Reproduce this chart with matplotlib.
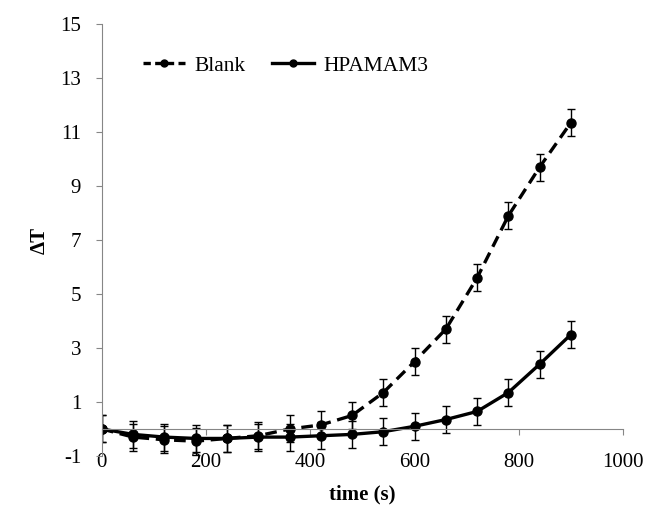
import matplotlib
matplotlib.use("Agg")
import matplotlib.pyplot as plt
from matplotlib.lines import Line2D

plt.rcParams['font.family'] = ['Liberation Serif', 'DejaVu Serif']
plt.rcParams['axes.unicode_minus'] = False

# time points (s)
time_s = [0, 60, 120, 180, 240, 300, 360, 420, 480, 540, 600, 660, 720, 780, 840, 900]

blank = [0.0, -0.3, -0.4, -0.45, -0.35, -0.25, 0.0, 0.15, 0.5, 1.35, 2.5, 3.7, 5.6, 7.9, 9.7, 11.35]
blank_err = [0.5] * 16

hpamam3 = [0.0, -0.2, -0.3, -0.35, -0.35, -0.3, -0.3, -0.25, -0.2, -0.1, 0.1, 0.35, 0.65, 1.35, 2.4, 3.5]
hpamam3_err = [0.5] * 16

x_ticks = [0, 200, 400, 600, 800, 1000]
y_ticks = [-1, 1, 3, 5, 7, 9, 11, 13, 15]

dash = (0, (3.5, 2))

fig = plt.figure(figsize=(6.49, 5.07), dpi=100)
ax = fig.add_axes([0.157, 0.1006, 0.803, 0.852])

ax.errorbar(time_s, blank, yerr=blank_err, color='black', lw=2.4, ls=dash,
            marker='o', ms=6.5, ecolor='black', elinewidth=1.0, capsize=3,
            capthick=1.0)
ax.errorbar(time_s, hpamam3, yerr=hpamam3_err, color='black', lw=2.4, ls='-',
            marker='o', ms=6.5, ecolor='black', elinewidth=1.0, capsize=3,
            capthick=1.0)

ax.set_xlim(0, 1000)
ax.set_ylim(-1, 15)
ax.set_xticks(x_ticks)
ax.set_yticks(y_ticks)

gray = '#868686'
ax.spines['top'].set_visible(False)
ax.spines['right'].set_visible(False)
ax.spines['left'].set_color(gray)
ax.spines['bottom'].set_color(gray)
ax.spines['bottom'].set_position(('data', 0))

ax.tick_params(axis='y', direction='out', length=4, color=gray, labelsize=15, pad=11)
ax.tick_params(axis='x', direction='out', length=4, color=gray, labelsize=15, pad=13)

ax.set_xlabel('time (s)', fontsize=15, fontweight='bold')
ax.xaxis.set_label_coords(0.5, -0.065)
ax.set_ylabel('ΔT', fontsize=15, fontweight='bold')
ax.yaxis.set_label_coords(-0.1, 0.5)

handles = [
    Line2D([], [], color='black', lw=2.4, ls=(0, (2.2, 1.3)), marker='o', ms=5),
    Line2D([], [], color='black', lw=2.4, ls='-', marker='o', ms=5),
]
ax.legend(handles, ['Blank', 'HPAMAM3'], loc='upper left', ncol=2, frameon=False,
          fontsize=15.5, bbox_to_anchor=(0.042, 0.972), handlelength=1.95,
          columnspacing=1.2, handletextpad=0.45)

fig.savefig('out.png', dpi=100)
